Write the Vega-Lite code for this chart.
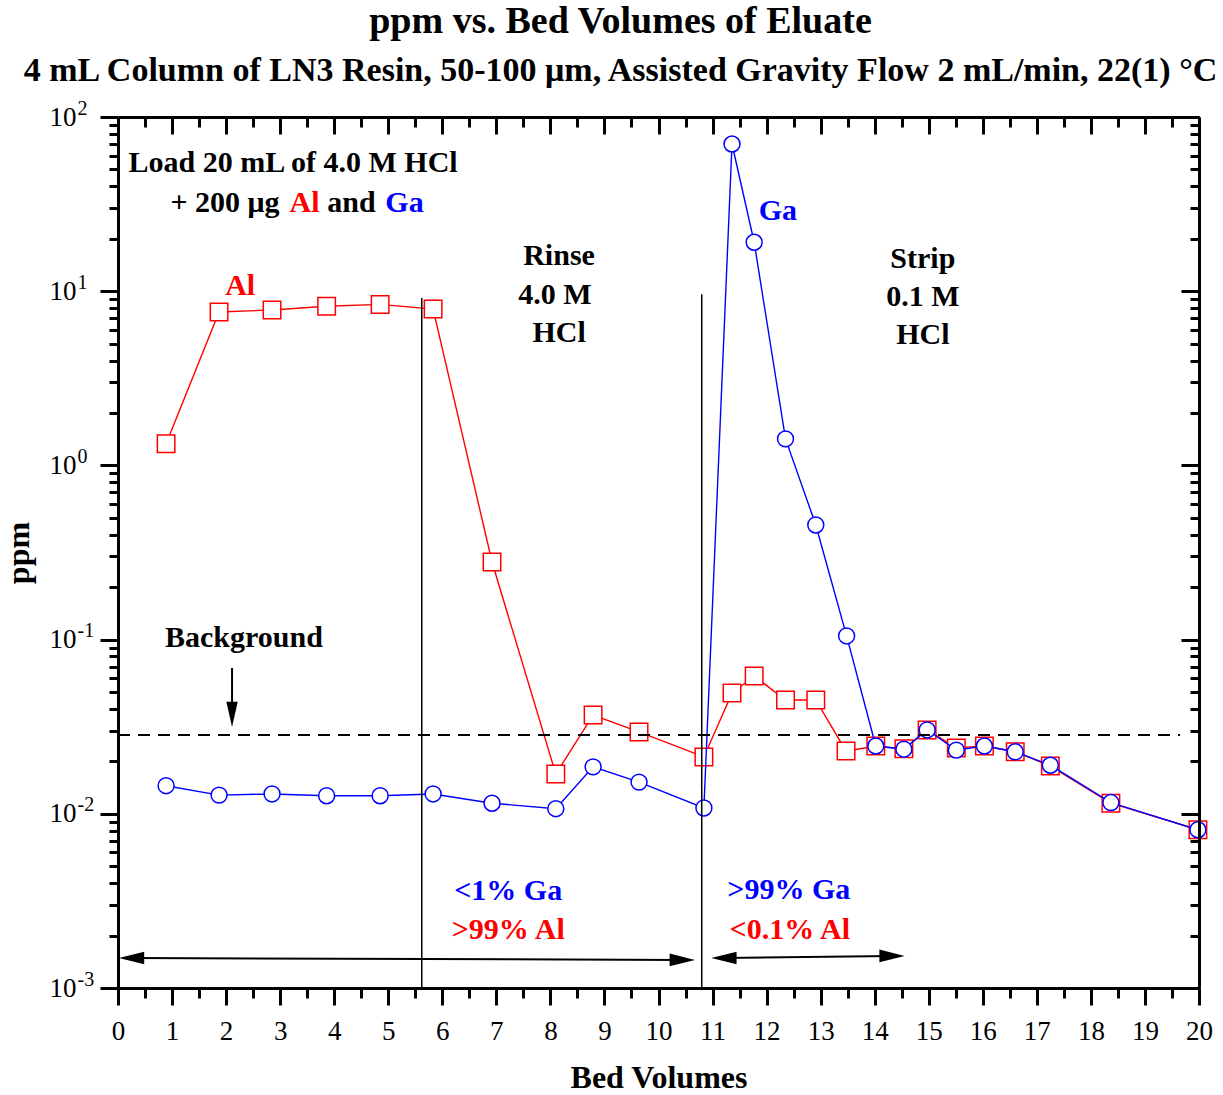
{
  "$schema": "https://vega.github.io/schema/vega-lite/v6.json",
  "width": 1081,
  "height": 871,
  "autosize": {"type": "none"},
  "padding": {"left": 118, "top": 117, "right": 24, "bottom": 107},
  "background": "white",
  "config": {
    "view": {"stroke": null},
    "font": "Liberation Serif",
    "axis": {
      "grid": false,
      "domainColor": "black",
      "tickColor": "black",
      "labelColor": "black",
      "titleColor": "black",
      "labelFont": "Liberation Serif",
      "titleFont": "Liberation Serif",
      "domainWidth": 3,
      "tickWidth": 3
    }
  },
  "title": {
    "text": "ppm vs. Bed Volumes of Eluate",
    "subtitle": "4 mL Column of LN3 Resin, 50-100 μm, Assisted Gravity Flow 2 mL/min, 22(1) °C",
    "font": "Liberation Serif",
    "fontSize": 38,
    "fontWeight": "bold",
    "color": "black",
    "subtitleFont": "Liberation Serif",
    "subtitleFontSize": 34,
    "subtitleFontWeight": "bold",
    "subtitleColor": "black",
    "anchor": "middle",
    "frame": "group",
    "dx": -38,
    "offset": 10,
    "subtitlePadding": 13
  },
  "datasets": {
    "al": [
      {"bv": 0.89, "ppm": 1.33},
      {"bv": 1.87, "ppm": 7.6},
      {"bv": 2.85, "ppm": 7.8},
      {"bv": 3.86, "ppm": 8.2},
      {"bv": 4.85, "ppm": 8.4},
      {"bv": 5.83, "ppm": 7.9},
      {"bv": 6.92, "ppm": 0.279},
      {"bv": 8.1, "ppm": 0.0169},
      {"bv": 8.79, "ppm": 0.0369},
      {"bv": 9.64, "ppm": 0.0295},
      {"bv": 10.84, "ppm": 0.0212},
      {"bv": 11.36, "ppm": 0.0493},
      {"bv": 11.77, "ppm": 0.0618},
      {"bv": 12.35, "ppm": 0.045},
      {"bv": 12.91, "ppm": 0.045},
      {"bv": 13.47, "ppm": 0.0229},
      {"bv": 14.02, "ppm": 0.0245},
      {"bv": 14.54, "ppm": 0.0236},
      {"bv": 14.97, "ppm": 0.0303},
      {"bv": 15.51, "ppm": 0.0239},
      {"bv": 16.03, "ppm": 0.0245},
      {"bv": 16.6, "ppm": 0.0227},
      {"bv": 17.25, "ppm": 0.0188},
      {"bv": 18.37, "ppm": 0.0115},
      {"bv": 19.98, "ppm": 0.0081}
    ],
    "ga": [
      {"bv": 0.89, "ppm": 0.0145},
      {"bv": 1.87, "ppm": 0.0128},
      {"bv": 2.85, "ppm": 0.013},
      {"bv": 3.86, "ppm": 0.0127},
      {"bv": 4.85, "ppm": 0.0127},
      {"bv": 5.83, "ppm": 0.013},
      {"bv": 6.92, "ppm": 0.0115},
      {"bv": 8.1, "ppm": 0.0107},
      {"bv": 8.79, "ppm": 0.0186},
      {"bv": 9.64, "ppm": 0.0152},
      {"bv": 10.84, "ppm": 0.0108},
      {"bv": 11.36, "ppm": 70},
      {"bv": 11.77, "ppm": 19.1},
      {"bv": 12.35, "ppm": 1.42},
      {"bv": 12.91, "ppm": 0.455},
      {"bv": 13.48, "ppm": 0.105},
      {"bv": 14.02, "ppm": 0.0245},
      {"bv": 14.54, "ppm": 0.0235},
      {"bv": 14.97, "ppm": 0.0303},
      {"bv": 15.51, "ppm": 0.0232},
      {"bv": 16.03, "ppm": 0.0245},
      {"bv": 16.6, "ppm": 0.0227},
      {"bv": 17.25, "ppm": 0.019},
      {"bv": 18.37, "ppm": 0.0116},
      {"bv": 19.98, "ppm": 0.0081}
    ],
    "vlines": [
      {"bv": 5.62, "ppm": 9.14, "ppm2": 0.001},
      {"bv": 10.8, "ppm": 9.6, "ppm2": 0.001}
    ],
    "bg": [
      {"bv": 0, "bv2": 19.65, "ppm": 0.0283}
    ],
    "shafts": [
      {"bv": 0.25, "bv2": 10.44, "ppm": 0.001486, "ppm2": 0.001449},
      {"bv": 11.21, "bv2": 14.32, "ppm": 0.001486, "ppm2": 0.001528},
      {"bv": 2.11, "bv2": 2.11, "ppm": 0.0687, "ppm2": 0.0372}
    ],
    "heads": [
      {"bv": 0.25, "ppm": 0.001486, "dir": "left"},
      {"bv": 10.44, "ppm": 0.001449, "dir": "right"},
      {"bv": 11.21, "ppm": 0.001486, "dir": "left"},
      {"bv": 14.32, "ppm": 0.001528, "dir": "right"},
      {"bv": 2.11, "ppm": 0.0372, "dir": "down"}
    ],
    "notes": [
      {"bv": 3.24, "ppm": 54.5, "label": "Load 20 mL of 4.0 M HCl", "c": "k"},
      {"bv": 1.98, "ppm": 32.1, "label": "+ 200 μg", "c": "k"},
      {"bv": 3.45, "ppm": 32.1, "label": "Al", "c": "r"},
      {"bv": 4.32, "ppm": 32.1, "label": "and", "c": "k"},
      {"bv": 5.3, "ppm": 32.1, "label": "Ga", "c": "b"},
      {"bv": 2.26, "ppm": 10.7, "label": "Al", "c": "r"},
      {"bv": 12.21, "ppm": 28.8, "label": "Ga", "c": "b"},
      {"bv": 8.16, "ppm": 15.9, "label": "Rinse", "c": "k"},
      {"bv": 8.085, "ppm": 9.51, "label": "4.0 M", "c": "k"},
      {"bv": 8.16, "ppm": 5.75, "label": "HCl", "c": "k"},
      {"bv": 14.89, "ppm": 15.3, "label": "Strip", "c": "k"},
      {"bv": 14.89, "ppm": 9.27, "label": "0.1 M", "c": "k"},
      {"bv": 14.89, "ppm": 5.61, "label": "HCl", "c": "k"},
      {"bv": 2.33, "ppm": 0.102, "label": "Background", "c": "k"},
      {"bv": 7.22, "ppm": 0.00361, "label": "<1% Ga", "c": "b"},
      {"bv": 7.22, "ppm": 0.00215, "label": ">99% Al", "c": "r"},
      {"bv": 12.41, "ppm": 0.00366, "label": ">99% Ga", "c": "b"},
      {"bv": 12.43, "ppm": 0.00215, "label": "<0.1% Al", "c": "r"}
    ]
  },
  "layer": [
    {
      "data": {"name": "al"},
      "mark": {"type": "line", "color": "#ff0000", "strokeWidth": 1.4},
      "encoding": {
        "x": {
          "field": "bv", "type": "quantitative",
          "scale": {"domain": [0, 20], "nice": false, "zero": false},
          "axis": {
            "orient": "bottom", "values": [0,1,2,3,4,5,6,7,8,9,10,11,12,13,14,15,16,17,18,19,20],
            "tickSize": 17, "labelFontSize": 27, "labelPadding": 13, "labelFlush": false, "labelOverlap": false,
            "title": "Bed Volumes", "titleFontSize": 32, "titleFontWeight": "bold", "titlePadding": 18,
            "domain": true
          }
        },
        "y": {
          "field": "ppm", "type": "quantitative",
          "scale": {"type": "log", "domain": [0.001, 100], "nice": false},
          "axis": {
            "orient": "left", "values": [0.001, 0.01, 0.1, 1, 10, 100],
            "tickSize": 18, "labelExpr": "'10'", "labelFontSize": 27, "labelPadding": 24,
            "labelFlush": false, "labelOverlap": false, "labelBaseline": "middle",
            "title": "ppm", "titleFontSize": 32, "titleFontWeight": "bold", "titlePadding": 14,
            "domain": true
          }
        }
      }
    },
    {
      "data": {"name": "al"},
      "mark": {"type": "point", "shape": "square", "size": 306, "fill": "white", "fillOpacity": 1, "stroke": "#ff0000", "strokeWidth": 1.5, "opacity": 1},
      "encoding": {
        "x": {
          "field": "bv", "type": "quantitative",
          "scale": {"domain": [0, 20], "nice": false, "zero": false},
          "axis": {
            "orient": "bottom", "values": [0.5,1.5,2.5,3.5,4.5,5.5,6.5,7.5,8.5,9.5,10.5,11.5,12.5,13.5,14.5,15.5,16.5,17.5,18.5,19.5],
            "tickSize": 10, "labels": false, "domain": false, "title": null
          }
        },
        "y": {
          "field": "ppm", "type": "quantitative",
          "scale": {"type": "log", "domain": [0.001, 100], "nice": false},
          "axis": {
            "orient": "left",
            "values": [0.002,0.003,0.004,0.005,0.006,0.007,0.008,0.009,0.02,0.03,0.04,0.05,0.06,0.07,0.08,0.09,0.2,0.3,0.4,0.5,0.6,0.7,0.8,0.9,2,3,4,5,6,7,8,9,20,30,40,50,60,70,80,90],
            "tickSize": 9, "labels": false, "domain": false, "title": null
          }
        }
      }
    },
    {
      "data": {"name": "ga"},
      "mark": {"type": "line", "color": "#0000ff", "strokeWidth": 1.4},
      "encoding": {
        "x": {
          "field": "bv", "type": "quantitative",
          "scale": {"domain": [0, 20], "nice": false, "zero": false},
          "axis": {
            "orient": "top", "values": [0,1,2,3,4,5,6,7,8,9,10,11,12,13,14,15,16,17,18,19,20],
            "tickSize": -17, "labels": false, "domain": true, "title": null
          }
        },
        "y": {
          "field": "ppm", "type": "quantitative",
          "scale": {"type": "log", "domain": [0.001, 100], "nice": false},
          "axis": {
            "orient": "right", "values": [0.001, 0.01, 0.1, 1, 10, 100],
            "tickSize": -18, "labels": false, "domain": true, "title": null, "zindex": 1
          }
        }
      }
    },
    {
      "data": {"name": "ga"},
      "mark": {"type": "point", "shape": "circle", "size": 254, "fill": "white", "fillOpacity": 1, "stroke": "#0000ff", "strokeWidth": 1.5, "opacity": 1},
      "encoding": {
        "x": {
          "field": "bv", "type": "quantitative",
          "scale": {"domain": [0, 20], "nice": false, "zero": false},
          "axis": {
            "orient": "top", "values": [0.5,1.5,2.5,3.5,4.5,5.5,6.5,7.5,8.5,9.5,10.5,11.5,12.5,13.5,14.5,15.5,16.5,17.5,18.5,19.5],
            "tickSize": -10, "labels": false, "domain": false, "title": null
          }
        },
        "y": {
          "field": "ppm", "type": "quantitative",
          "scale": {"type": "log", "domain": [0.001, 100], "nice": false},
          "axis": {
            "orient": "right",
            "values": [0.002,0.003,0.004,0.005,0.006,0.007,0.008,0.009,0.02,0.03,0.04,0.05,0.06,0.07,0.08,0.09,0.2,0.3,0.4,0.5,0.6,0.7,0.8,0.9,2,3,4,5,6,7,8,9,20,30,40,50,60,70,80,90],
            "tickSize": -9, "labels": false, "domain": false, "title": null
          }
        }
      }
    },
    {
      "data": {"name": "vlines"},
      "mark": {"type": "rule", "color": "black", "strokeWidth": 1.5},
      "encoding": {
        "x": {"field": "bv", "type": "quantitative", "scale": {"domain": [0, 20], "nice": false, "zero": false}, "axis": null},
        "y": {
          "field": "ppm", "type": "quantitative",
          "scale": {"type": "log", "domain": [0.001, 100], "nice": false},
          "axis": {
            "orient": "left", "values": [0.001, 0.01, 0.1, 1, 10, 100],
            "ticks": false, "domain": false, "title": null,
            "labelExpr": "'' + round(log(datum.value) / LN10)",
            "labelFontSize": 20, "labelAlign": "left", "labelPadding": 41, "labelOffset": -9,
            "labelFlush": false, "labelOverlap": false, "labelBaseline": "middle"
          }
        },
        "y2": {"field": "ppm2"}
      }
    },
    {
      "data": {"name": "bg"},
      "mark": {"type": "rule", "color": "black", "strokeWidth": 2, "strokeDash": [12, 8]},
      "encoding": {
        "x": {"field": "bv", "type": "quantitative", "scale": {"domain": [0, 20], "nice": false, "zero": false}, "axis": null},
        "x2": {"field": "bv2"},
        "y": {"field": "ppm", "type": "quantitative", "scale": {"type": "log", "domain": [0.001, 100], "nice": false}, "axis": null}
      }
    },
    {
      "data": {"name": "shafts"},
      "mark": {"type": "rule", "color": "black", "strokeWidth": 2},
      "encoding": {
        "x": {"field": "bv", "type": "quantitative", "scale": {"domain": [0, 20], "nice": false, "zero": false}, "axis": null},
        "x2": {"field": "bv2"},
        "y": {"field": "ppm", "type": "quantitative", "scale": {"type": "log", "domain": [0.001, 100], "nice": false}, "axis": null},
        "y2": {"field": "ppm2"}
      }
    },
    {
      "data": {"name": "heads"},
      "mark": {"type": "point", "filled": true, "size": 640, "color": "black", "opacity": 1},
      "encoding": {
        "x": {"field": "bv", "type": "quantitative", "scale": {"domain": [0, 20], "nice": false, "zero": false}, "axis": null},
        "y": {"field": "ppm", "type": "quantitative", "scale": {"type": "log", "domain": [0.001, 100], "nice": false}, "axis": null},
        "shape": {
          "field": "dir", "type": "nominal", "legend": null,
          "scale": {"domain": ["left", "right", "down"], "range": ["M-1,0L1,-0.5L1,0.5Z", "M1,0L-1,-0.5L-1,0.5Z", "M0,1L-0.45,-1L0.45,-1Z"]}
        }
      }
    },
    {
      "data": {"name": "notes"},
      "mark": {"type": "text", "font": "Liberation Serif", "fontSize": 30, "fontWeight": "bold", "align": "center", "baseline": "middle"},
      "encoding": {
        "x": {"field": "bv", "type": "quantitative", "scale": {"domain": [0, 20], "nice": false, "zero": false}, "axis": null},
        "y": {"field": "ppm", "type": "quantitative", "scale": {"type": "log", "domain": [0.001, 100], "nice": false}, "axis": null},
        "text": {"field": "label"},
        "color": {
          "field": "c", "type": "nominal", "legend": null,
          "scale": {"domain": ["k", "r", "b"], "range": ["black", "#ff0000", "#0000ff"]}
        }
      }
    }
  ],
  "resolve": {"axis": {"x": "independent", "y": "independent"}}
}
